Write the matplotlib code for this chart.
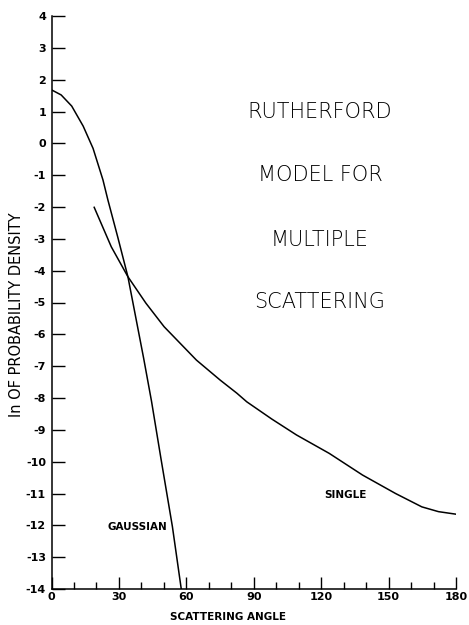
import matplotlib
matplotlib.use("Agg")
import matplotlib.pyplot as plt
from matplotlib.ticker import MultipleLocator

plt.rcParams['axes.unicode_minus'] = False

# Gaussian (multiple-scattering) curve: angle (deg), ln of probability density
gauss_angle = [0, 4.3, 9.0, 14.1, 18.5, 22.9, 25.1, 29.5, 34.0, 41.0, 44.5, 48.7, 53.8, 57.8]
gauss_ln = [1.68, 1.52, 1.17, 0.54, -0.16, -1.15, -1.78, -2.95, -4.19, -6.75, -8.10, -9.90, -12.04, -14.03]

# Single-scattering curve
single_angle = [19.0, 26.6, 34.0, 42.0, 50.1, 64.5, 75.1, 82.5, 86.9, 98.0, 109.0, 123.6, 138.4, 153.1, 164.8, 172.2, 180.0]
single_ln = [-2.01, -3.25, -4.19, -5.02, -5.76, -6.81, -7.44, -7.85, -8.12, -8.66, -9.16, -9.74, -10.42, -11.00, -11.42, -11.57, -11.65]

x_ticks = [0, 30, 60, 90, 120, 150, 180]
y_ticks = list(range(-14, 5))
title_lines = ["RUTHERFORD", "MODEL FOR", "MULTIPLE", "SCATTERING"]
title_y = [0.98, -1.0, -3.04, -4.99]

fig = plt.figure(figsize=(4.69, 6.25), dpi=100)
ax = fig.add_axes([51.5/469, 1-589/625, (456-51.5)/469, (589-16)/625])

ax.plot(gauss_angle, gauss_ln, color='black', lw=1.1)
ax.plot(single_angle, single_ln, color='black', lw=1.1)

ax.set_xlim(0, 180)
ax.set_ylim(-14, 4)
for s in ['top', 'right']:
    ax.spines[s].set_visible(False)
ax.spines['left'].set_linewidth(1.1)
ax.spines['bottom'].set_linewidth(1.1)

ax.set_xticks(x_ticks)
ax.set_xticklabels([str(v) for v in x_ticks])
ax.xaxis.set_minor_locator(MultipleLocator(10))
ax.set_yticks(y_ticks)
ax.set_yticklabels([str(v) for v in y_ticks])

ax.tick_params(axis='y', direction='in', length=9.5, width=1.0, pad=4,
               labelsize=8)
ax.tick_params(axis='x', which='major', direction='in', length=9, width=1.0,
               pad=2, labelsize=8)
ax.tick_params(axis='x', which='minor', direction='in', length=5, width=1.0)
for lab in ax.get_xticklabels() + ax.get_yticklabels():
    lab.set_fontweight('bold')

for t, yv in zip(title_lines, title_y):
    ax.text(119.5, yv, t, ha='center', va='center', fontsize=15,
            fontweight='light', family='DejaVu Sans')

ax.text(131, -11.05, "SINGLE", ha='center', va='center', fontsize=7.5,
        fontweight='bold')
ax.text(38.4, -12.05, "GAUSSIAN", ha='center', va='center', fontsize=7.5,
        fontweight='bold')

fig.text(17/469, 1-315/625, "ln OF PROBABILITY DENSITY", rotation=90,
         ha='center', va='center', fontsize=10.5)
fig.text(228/469, 1-617/625, "SCATTERING ANGLE", ha='center', va='center',
         fontsize=7.5, fontweight='bold')

fig.savefig("out.png", dpi=100)
